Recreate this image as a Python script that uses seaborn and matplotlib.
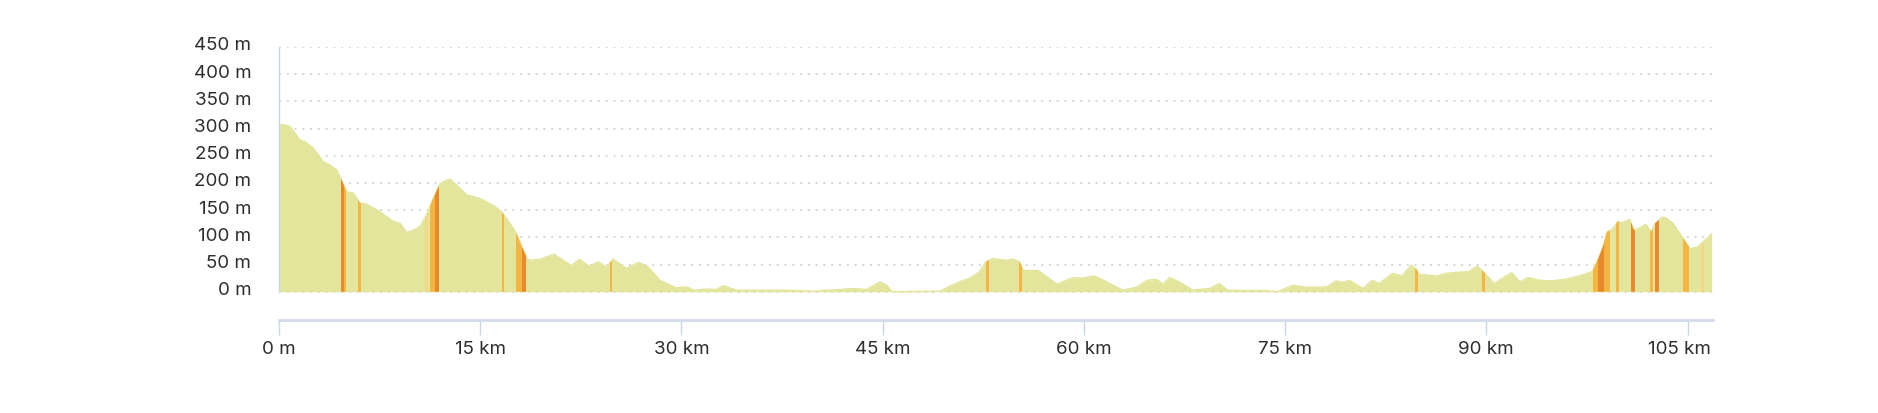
import matplotlib
matplotlib.use("Agg")
import matplotlib.pyplot as plt
import matplotlib.transforms as mtransforms
import seaborn as sns
import pandas as pd

# elevation profile
distance_km = [0, 0.2, 0.82, 1.56, 1.94, 2.56, 3.3, 3.8, 4.3, 4.67, 5.05, 5.54, 6.04, 6.54,
               7.53, 8.53, 9.02, 9.52, 10.0, 10.5, 11.0, 11.5, 12.0, 12.5, 12.75, 13.25, 14.0,
               14.5, 15.2, 16.0, 16.6, 17.2, 17.7, 18.1, 18.5, 18.7, 19.5, 20.5, 21.2, 21.8,
               22.4, 23.1, 23.8, 24.4, 24.9, 25.9, 26.8, 27.5, 28.4, 29.6, 30.4, 30.9, 31.9,
               32.6, 33.1, 34.1, 37.3, 39.8, 41.8, 42.8, 43.8, 44.8, 45.3, 45.7, 49.3, 49.8,
               50.7, 51.5, 52.2, 52.7, 53.2, 54.2, 54.7, 55.2, 55.5, 56.6, 58.0, 59.2, 59.9,
               60.8, 61.7, 62.9, 63.9, 64.7, 65.4, 65.9, 66.4, 67.2, 68.1, 69.4, 70.1, 70.7,
               72.1, 73.6, 74.4, 75.6, 76.3, 77.1, 78.1, 78.8, 79.3, 79.8, 80.8, 81.5, 82.0,
               83.0, 83.7, 84.4, 84.8, 85.0, 86.3, 87.0, 88.0, 88.7, 89.3, 89.7, 90.6, 91.2,
               91.9, 92.5, 93.1, 94.0, 94.9, 95.9, 96.9, 97.9, 98.3, 98.7, 99.0, 99.4, 99.8,
               100.1, 100.7, 101.0, 101.4, 101.9, 102.3, 102.6, 103.1, 103.4, 103.9, 104.6,
               105.2, 105.7, 106.1, 106.8]
elevation_m = [300, 308, 304, 279, 276, 264, 239, 233, 224, 205, 184, 181, 163, 161,
               147, 129, 126, 109, 113, 120, 141, 172, 199, 205, 207, 196, 178,
               175, 169, 158, 147, 126, 107, 83, 61, 58, 60, 69, 58, 48,
               60, 47, 55, 45, 60, 43, 54, 46, 21, 7, 9, 3, 5,
               4, 11, 3, 3, 1, 4, 6, 4, 18, 12, 0, 1, 8,
               18, 25, 36, 55, 61, 58, 60, 55, 39, 39, 14, 26, 25,
               29, 18, 3, 8, 21, 23, 14, 26, 17, 3, 6, 15, 3,
               2, 2, 0, 12, 9, 8, 9, 20, 17, 21, 6, 21, 15,
               34, 29, 49, 41, 32, 29, 34, 36, 37, 47, 39, 15, 25,
               35, 18, 26, 21, 20, 23, 29, 37, 58, 83, 110, 115, 129,
               127, 133, 113, 117, 124, 110, 126, 137, 136, 126, 101,
               79, 82, 90, 107]

# steep sections (start km, end km, grade class)
steep_start_km = [4.62, 4.85, 5.9, 10.85, 11.25, 11.6, 16.6, 17.65, 18.15, 24.65, 52.7,
                  55.2, 84.7, 89.7, 97.95, 98.3, 98.75, 99.7, 100.8, 102.2, 102.6, 104.7, 106.0]
steep_end_km = [4.85, 4.98, 6.1, 11.1, 11.6, 11.95, 16.8, 18.15, 18.45, 24.85, 52.9,
                55.4, 84.9, 89.9, 98.3, 98.75, 99.2, 99.9, 101.1, 102.45, 102.9, 105.1, 106.2]
steep_grade = ["dark", "mid", "mid", "light", "mid", "dark", "mid", "mid", "dark", "mid", "mid",
               "mid", "mid", "mid", "mid", "dark", "mid", "mid", "dark", "mid", "dark", "mid", "light"]

y_ticks = [0, 50, 100, 150, 200, 250, 300, 350, 400, 450]
y_labels = [f"{v} m" for v in y_ticks]
x_ticks = [0, 15, 30, 45, 60, 75, 90, 105]
x_labels = ["0 m"] + [f"{v} km" for v in x_ticks[1:]]

grade_colors = {"light": "#f1d98c", "mid": "#f4b542", "dark": "#e8892b"}
fill_color = "#e4e59c"
axis_color = "#d3dbea"
text_color = "#2e2e2e"

sns.set_style("white")
plt.rcParams["font.family"] = ["Inter", "DejaVu Sans"]

df = pd.DataFrame({"km": distance_km, "elev": elevation_m})

fig = plt.figure(figsize=(18.78, 4.13), dpi=100)
ax = fig.add_axes([279 / 1878, 1 - 320 / 413, (1713 - 279) / 1878, (320 - 47) / 413])

poly = ax.fill_between(df["km"], df["elev"], 0, color=fill_color, lw=0, zorder=2)
sns.lineplot(data=df, x="km", y="elev", ax=ax, color=fill_color, lw=1, zorder=2)

clip_path = poly.get_paths()[0]
for s, e, g in zip(steep_start_km, steep_end_km, steep_grade):
    span = ax.axvspan(s, e, color=grade_colors[g], lw=0, zorder=3)
    span.set_clip_path(clip_path, ax.transData)

ax.set_xlim(0, 106.9)
ax.set_ylim(-52, 450)
ax.set_xlabel("")
ax.set_ylabel("")

ax.set_yticks(y_ticks)
ax.set_yticklabels(y_labels)
ax.set_xticks(x_ticks)
ax.set_xticklabels(x_labels)

ax.yaxis.grid(True, color="#d6d6d6", linestyle=(0, (1, 3)), lw=1.4, zorder=0)
ax.xaxis.grid(False)
ax.set_axisbelow(True)

for side in ["top", "right"]:
    ax.spines[side].set_visible(False)
ax.spines["left"].set_bounds(0, 450)
ax.spines["left"].set_color("#c9d6ea")
ax.spines["left"].set_linewidth(1)
ax.spines["bottom"].set_color(axis_color)
ax.spines["bottom"].set_linewidth(2)

ax.tick_params(axis="y", left=False, length=0, pad=20, labelsize=13.5, labelcolor=text_color)
ax.tick_params(axis="x", bottom=True, direction="out", length=11, width=1, color="#c9d6ea",
               pad=4, labelsize=13.5, labelcolor=text_color)

# nudge labels like the reference
up = mtransforms.ScaledTranslation(0, 3 / 100, fig.dpi_scale_trans)
for lab in ax.get_yticklabels():
    lab.set_transform(lab.get_transform() + up)
left = mtransforms.ScaledTranslation(-8 / 100, 0, fig.dpi_scale_trans)
last = ax.get_xticklabels()[-1]
last.set_transform(last.get_transform() + left)

fig.savefig("out.png", dpi=100)
